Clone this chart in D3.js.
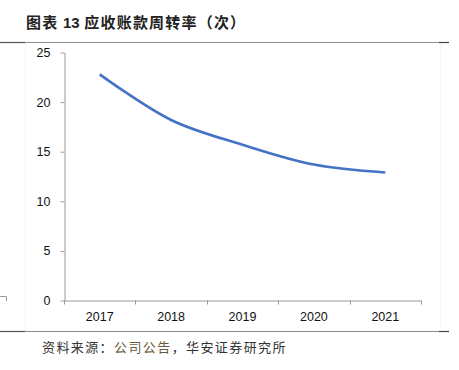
<!DOCTYPE html>
<html>
<head>
<meta charset="utf-8">
<script src="https://cdn.jsdelivr.net/npm/d3@7"></script>
<style>
  body { margin: 0; background: #fff; }
  svg { display: block; }
</style>
</head>
<body>
<div id="chart"></div>
<script>
// data
var years = ["2017", "2018", "2019", "2020", "2021"];
var turnover = [22.8, 18.2, 15.7, 13.7, 12.9];
var yTicks = [0, 5, 10, 15, 20, 25];

var width = 459,
  height = 370;

var svg = d3.select("#chart")
  .append("svg")
  .attr("width", width)
  .attr("height", height);

// title
var title = svg.append("text")
  .attr("x", 26)
  .attr("y", 28)
  .style("font-family", "'Noto Sans CJK SC', sans-serif")
  .style("font-size", "15px")
  .style("font-weight", "bold")
  .style("letter-spacing", "1.2px")
  .style("fill", "#222");
title.append("tspan").text("图表 ");
title.append("tspan")
  .style("font-family", "'Liberation Sans', Arial, sans-serif")
  .style("letter-spacing", "0px")
  .text("13");
title.append("tspan").text(" 应收账款周转率（次）");

// frame lines top and bottom, darker ends
function frameLine(y) {
  svg.append("line")
    .attr("x1", 0).attr("x2", 449)
    .attr("y1", y).attr("y2", y)
    .style("stroke", "#8c8c8c")
    .style("stroke-width", 1.2);
  svg.append("line")
    .attr("x1", 0).attr("x2", 25)
    .attr("y1", y).attr("y2", y)
    .style("stroke", "#555")
    .style("stroke-width", 1.2);
  svg.append("line")
    .attr("x1", 439).attr("x2", 449)
    .attr("y1", y).attr("y2", y)
    .style("stroke", "#444")
    .style("stroke-width", 1.2);
}
frameLine(42.5);
frameLine(331.5);

// faint side borders of the pasted picture
[25.5, 440.5].forEach(function(x) {
  svg.append("line")
    .attr("x1", x).attr("x2", x)
    .attr("y1", 43).attr("y2", 331)
    .style("stroke", "#f5f5f5");
});

// little corner mark on the left
svg.append("path")
  .attr("d", "M0,296.5 H6.5 V301")
  .style("fill", "none")
  .style("stroke", "#999");

// scales
var x = d3.scaleBand()
  .domain(years)
  .range([64, 421]);

var y = d3.scaleLinear()
  .domain([0, 25])
  .range([300.5, 52.5]);

// y axis
var yAxis = svg.append("g")
  .attr("transform", "translate(64.5,0)")
  .call(d3.axisLeft(y).tickValues(yTicks).tickSize(4).tickSizeOuter(0).tickPadding(10));

// x axis, ticks on category borders
var xAxis = svg.append("g")
  .attr("transform", "translate(0,300.5)")
  .call(d3.axisBottom(x).tickSize(0).tickSizeOuter(0).tickPadding(12));

var borders = years.map(function(d) { return x(d); }).concat([x.range()[1]]);
xAxis.selectAll(".border")
  .data(borders)
  .enter()
  .append("line")
  .attr("class", "border")
  .attr("x1", function(d) { return Math.round(d) + 0.5; })
  .attr("x2", function(d) { return Math.round(d) + 0.5; })
  .attr("y1", 0)
  .attr("y2", 4);

svg.selectAll(".domain, .tick line, .border")
  .style("stroke", "#999");
svg.selectAll(".tick text")
  .style("font-family", "'Liberation Sans', Arial, sans-serif")
  .style("font-size", "12.5px")
  .style("fill", "#111");

// the line
var line = d3.line()
  .x(function(d, i) { return x(years[i]) + x.bandwidth() / 2; })
  .y(function(d) { return y(d); })
  .curve(d3.curveCatmullRom.alpha(0.5));

svg.append("path")
  .datum(turnover)
  .attr("d", line)
  .style("fill", "none")
  .style("stroke", "#4472c4")
  .style("stroke-width", 2.6);

// source
var src = svg.append("text")
  .attr("x", 42)
  .attr("y", 352)
  .style("font-family", "'Noto Sans CJK SC', sans-serif")
  .style("font-size", "13px")
  .style("letter-spacing", "1.4px")
  .style("fill", "#333");
src.append("tspan").text("资料来源：");
src.append("tspan").style("fill", "#6b5b3a").text("公司公告");
src.append("tspan").text("，华安证券研究所");
</script>
</body>
</html>
